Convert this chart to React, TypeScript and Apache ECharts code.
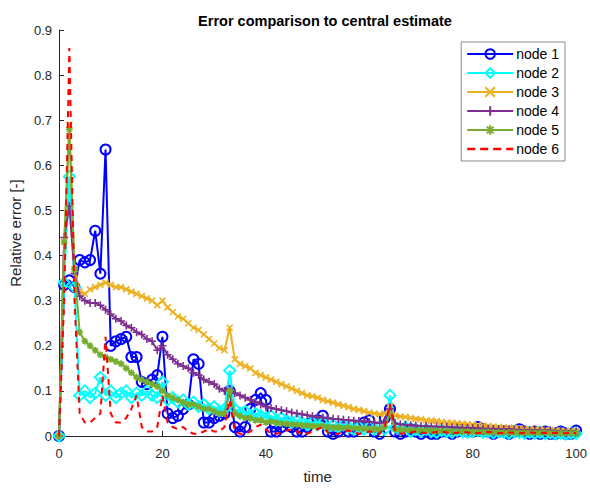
import React, { useEffect, useRef } from "react";
import * as echarts from "echarts";

const node1 = [0, 0.335, 0.345, 0.33, 0.39, 0.385, 0.39, 0.455, 0.36, 0.635,
  0.2, 0.21, 0.215, 0.22, 0.175, 0.175, 0.12, 0.115, 0.125, 0.135,
  0.22, 0.05, 0.04, 0.045, 0.06, 0.07, 0.17, 0.16, 0.03, 0.03,
  0.04, 0.045, 0.05, 0.1, 0.02, 0.01, 0.02, 0.06, 0.08, 0.095,
  0.08, 0.01, 0.01, 0.02, 0.03, 0.02, 0.01, 0.01, 0.02, 0.03,
  0.035, 0.045, 0.01, 0.005, 0.01, 0.02, 0.01, 0.01, 0.02, 0.03,
  0.035, 0.01, 0.005, 0.04, 0.06, 0.01, 0.005, 0.01, 0.015, 0.01,
  0.005, 0.01, 0.005, 0.005, 0.01, 0.01, 0.005, 0.01, 0.015, 0.01,
  0.01, 0.02, 0.015, 0.01, 0.005, 0.01, 0.01, 0.005, 0.01, 0.015,
  0.01, 0.005, 0.01, 0.005, 0.01, 0.005, 0.005, 0.01, 0.005, 0.005, 0.012];

const node2 = [0, 0.34, 0.575, 0.33, 0.09, 0.1, 0.085, 0.095, 0.13, 0.09,
  0.1, 0.085, 0.095, 0.1, 0.085, 0.095, 0.09, 0.1, 0.09, 0.085,
  0.12, 0.08, 0.085, 0.075, 0.08, 0.07, 0.075, 0.065, 0.07, 0.06,
  0.065, 0.055, 0.06, 0.145, 0.06, 0.05, 0.055, 0.045, 0.05, 0.045,
  0.04, 0.045, 0.035, 0.04, 0.035, 0.03, 0.035, 0.03, 0.025, 0.03,
  0.025, 0.03, 0.02, 0.025, 0.02, 0.025, 0.02, 0.015, 0.02, 0.015,
  0.02, 0.015, 0.02, 0.015, 0.09, 0.02, 0.015, 0.02, 0.01, 0.015,
  0.01, 0.015, 0.01, 0.008, 0.012, 0.01, 0.008, 0.012, 0.01, 0.008,
  0.01, 0.012, 0.008, 0.01, 0.007, 0.01, 0.008, 0.006, 0.01, 0.008,
  0.006, 0.008, 0.006, 0.008, 0.005, 0.007, 0.005, 0.006, 0.004, 0.006, 0.005];

const node3 = [0, 0.43, 0.69, 0.37, 0.32, 0.315, 0.325, 0.33, 0.335, 0.34,
  0.335, 0.33, 0.33, 0.325, 0.32, 0.315, 0.31, 0.305, 0.3, 0.29,
  0.3, 0.285, 0.275, 0.265, 0.26, 0.25, 0.24, 0.235, 0.225, 0.215,
  0.205, 0.195, 0.19, 0.24, 0.17, 0.16, 0.155, 0.15, 0.14, 0.135,
  0.13, 0.125, 0.12, 0.115, 0.11, 0.105, 0.1, 0.095, 0.09, 0.088,
  0.085, 0.08, 0.077, 0.074, 0.07, 0.067, 0.064, 0.06, 0.058, 0.055,
  0.052, 0.05, 0.048, 0.05, 0.065, 0.045, 0.043, 0.042, 0.04, 0.038,
  0.037, 0.035, 0.034, 0.033, 0.031, 0.03, 0.029, 0.028, 0.027, 0.026,
  0.025, 0.024, 0.023, 0.022, 0.021, 0.02, 0.019, 0.018, 0.018, 0.017,
  0.016, 0.015, 0.015, 0.014, 0.013, 0.013, 0.012, 0.012, 0.011, 0.011, 0.01];

const node4 = [0, 0.44, 0.51, 0.36, 0.31, 0.3, 0.295, 0.295, 0.29, 0.28,
  0.27, 0.26, 0.255, 0.245, 0.24, 0.23, 0.225, 0.215, 0.21, 0.19,
  0.2, 0.18, 0.17, 0.16, 0.155, 0.15, 0.14, 0.135, 0.125, 0.12,
  0.115, 0.105, 0.1, 0.105, 0.095, 0.09, 0.085, 0.08, 0.075, 0.07,
  0.065, 0.062, 0.06, 0.057, 0.055, 0.052, 0.05, 0.048, 0.046, 0.044,
  0.042, 0.041, 0.04, 0.038, 0.037, 0.036, 0.035, 0.034, 0.033, 0.032,
  0.031, 0.03, 0.029, 0.032, 0.06, 0.028, 0.026, 0.025, 0.024, 0.023,
  0.022, 0.022, 0.021, 0.021, 0.02, 0.02, 0.019, 0.019, 0.018, 0.018,
  0.017, 0.017, 0.016, 0.016, 0.016, 0.015, 0.015, 0.015, 0.014, 0.014,
  0.013, 0.013, 0.013, 0.012, 0.012, 0.012, 0.011, 0.011, 0.011, 0.01, 0.01];

const node5 = [0, 0.43, 0.68, 0.37, 0.23, 0.21, 0.2, 0.19, 0.18, 0.175,
  0.17, 0.165, 0.16, 0.15, 0.14, 0.13, 0.125, 0.12, 0.115, 0.11,
  0.1, 0.09, 0.085, 0.08, 0.075, 0.07, 0.07, 0.065, 0.06, 0.06,
  0.055, 0.05, 0.05, 0.1, 0.05, 0.045, 0.04, 0.04, 0.035, 0.035,
  0.03, 0.032, 0.03, 0.028, 0.027, 0.026, 0.025, 0.024, 0.023, 0.022,
  0.021, 0.022, 0.02, 0.019, 0.019, 0.018, 0.018, 0.017, 0.017, 0.016,
  0.016, 0.015, 0.015, 0.02, 0.05, 0.015, 0.014, 0.014, 0.013, 0.013,
  0.012, 0.012, 0.012, 0.011, 0.011, 0.011, 0.01, 0.01, 0.01, 0.01,
  0.009, 0.009, 0.009, 0.009, 0.008, 0.008, 0.008, 0.008, 0.008, 0.007,
  0.007, 0.007, 0.007, 0.007, 0.007, 0.006, 0.006, 0.006, 0.006, 0.006, 0.006];

const node6 = [0, 0.3, 0.86, 0.3, 0.05, 0.03, 0.03, 0.04, 0.05, 0.22,
  0.05, 0.03, 0.03, 0.04, 0.06, 0.09, 0.02, 0.01, 0.01, 0.02,
  0.09, 0.03, 0.02, 0.015, 0.02, 0.01, 0.005, 0.005, 0.01, 0.015,
  0.01, 0.01, 0.02, 0.08, 0.01, 0.005, 0.005, 0.01, 0.02, 0.025,
  0.015, 0.005, 0.005, 0.008, 0.012, 0.015, 0.01, 0.005, 0.005, 0.01,
  0.015, 0.02, 0.008, 0.004, 0.005, 0.01, 0.012, 0.008, 0.005, 0.006,
  0.01, 0.008, 0.005, 0.02, 0.07, 0.01, 0.005, 0.006, 0.008, 0.01,
  0.008, 0.006, 0.007, 0.009, 0.01, 0.008, 0.006, 0.007, 0.009, 0.008,
  0.007, 0.006, 0.008, 0.009, 0.008, 0.006, 0.007, 0.008, 0.007, 0.006,
  0.007, 0.008, 0.007, 0.006, 0.007, 0.006, 0.007, 0.006, 0.006, 0.007, 0.006];

const seriesNames = ["node 1", "node 2", "node 3", "node 4", "node 5", "node 6"];
const seriesColors = ["#0000FF", "#00FFFF", "#EDB120", "#7E2F8E", "#77AC30", "#FF0000"];
const yTicks = [0, 0.1, 0.2, 0.3, 0.4, 0.5, 0.6, 0.7, 0.8, 0.9];

const SYM_X = "path://M0,0L10,10M10,0L0,10";
const SYM_PLUS = "path://M5,0L5,10M0,5L10,5";
const SYM_STAR = "path://M5,0L5,10M0,5L10,5M1.5,1.5L8.5,8.5M8.5,1.5L1.5,8.5";
const DASH_ICON = "path://M0,0h8v2.4h-8zM13,0h8v2.4h-8zM26,0h8v2.4h-8zM39,0h7v2.4h-7z";

const FONT = "'Liberation Sans', Arial, Helvetica, sans-serif";

export default function App() {
  const ref = useRef<HTMLDivElement>(null);
  useEffect(() => {
    if (!ref.current) return;
    const chart = echarts.init(ref.current, null, { renderer: "svg" });
    const all = [node1, node2, node3, node4, node5, node6];
    const symbols = ["circle", "diamond", SYM_X, SYM_PLUS, SYM_STAR, "none"];
    const sizes = [10, 11, 6, 8, 7, 0];
    const series = all.map((arr, k) => ({
      name: seriesNames[k],
      type: "line",
      data: arr.map((v, i) => [i, v]),
      symbol: symbols[k],
      symbolSize: sizes[k],
      showSymbol: k !== 5,
      lineStyle: { color: seriesColors[k], width: 2, type: k === 5 ? [6, 5] : "solid" },
      itemStyle: {
        color: k < 2 ? "rgba(255,255,255,0)" : seriesColors[k],
        borderColor: seriesColors[k],
        borderWidth: k < 2 ? 2 : 1.6,
      },
      emphasis: { disabled: true },
      z: 2 + k,
    }));
    const legendData = seriesNames.map((n, k) =>
      k === 5 ? { name: n, icon: DASH_ICON, itemStyle: { color: seriesColors[5], borderWidth: 0 } } : { name: n }
    );
    chart.setOption({
      animation: false,
      backgroundColor: "#ffffff",
      title: {
        text: "Error comparison to central estimate",
        left: 320,
        textAlign: "center",
        top: 8,
        textStyle: { fontSize: 14.5, fontWeight: "bold", color: "#000", fontFamily: FONT },
      },
      grid: { left: 59, right: 8, top: 30, bottom: 49, containLabel: false },
      legend: {
        orient: "vertical",
        right: 25,
        top: 42,
        data: legendData,
        itemWidth: 46,
        itemHeight: 12,
        itemGap: 5,
        padding: [5, 6, 5, 5],
        borderColor: "#8c8c8c",
        borderWidth: 1,
        backgroundColor: "#ffffff",
        textStyle: { fontSize: 14, color: "#000", fontFamily: FONT, padding: [0, 0, 0, -2] },
      },
      xAxis: {
        type: "value",
        min: 0,
        max: 100,
        interval: 20,
        name: "time",
        nameLocation: "middle",
        nameGap: 33,
        nameTextStyle: { fontSize: 15, color: "#262626", fontFamily: FONT },
        axisLine: { lineStyle: { color: "#262626", width: 1 } },
        axisTick: { inside: true, length: 5, lineStyle: { color: "#262626" } },
        axisLabel: { fontSize: 13, color: "#262626", fontFamily: FONT, margin: 11 },
        splitLine: { show: false },
      },
      yAxis: {
        type: "value",
        min: 0,
        max: 0.9,
        interval: 0.1,
        name: "Relative error [-]",
        nameLocation: "middle",
        nameGap: 36,
        nameTextStyle: { fontSize: 15, color: "#262626", fontFamily: FONT },
        axisLine: { show: true, lineStyle: { color: "#262626", width: 1 } },
        axisTick: { show: true, inside: true, length: 5, lineStyle: { color: "#262626" } },
        axisLabel: {
          fontSize: 13,
          color: "#262626",
          fontFamily: FONT,
          margin: 7,
          formatter: (v: number) => {
            const t = yTicks.find((y) => Math.abs(y - v) < 1e-9);
            return t === undefined ? "" : String(+t.toFixed(1));
          },
        },
        splitLine: { show: false },
      },
      series,
    });
    return () => chart.dispose();
  }, []);
  return <div ref={ref} style={{ width: 590, height: 489, position: "absolute", left: 0, top: 0 }} />;
}
